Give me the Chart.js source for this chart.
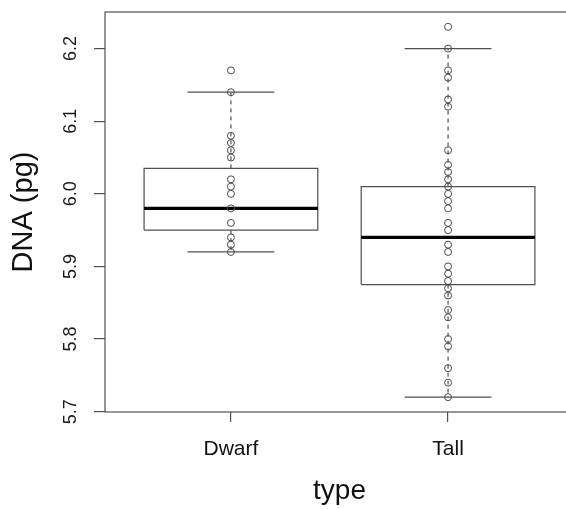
<!DOCTYPE html>
<html>
<head>
<meta charset="UTF-8" />
<title>DNA by type</title>
<script src="https://cdn.jsdelivr.net/npm/chart.js"></script>
<style>
  html, body { margin: 0; padding: 0; background: #fff; overflow: hidden; }
  #wrap { width: 580px; height: 509px; }
</style>
</head>
<body>
<div id="wrap"><canvas id="box" width="580" height="509"></canvas></div>
<script>
// box statistics per group
const categories = ["Dwarf", "Tall"];
const q1 = [5.95, 5.875];
const medians = [5.98, 5.94];
const q3 = [6.035, 6.01];
const whiskerLow = [5.92, 5.72];
const whiskerHigh = [6.14, 6.20];

// observed points (stripchart overlay)
const dwarfValues = [6.17, 6.14, 6.08, 6.07, 6.06, 6.05, 6.02, 6.01, 6.00, 5.98, 5.96, 5.94, 5.93, 5.92];
const tallValues = [6.23, 6.20, 6.17, 6.16, 6.13, 6.12, 6.06, 6.04, 6.03, 6.02, 6.01, 6.00, 5.99, 5.98,
  5.96, 5.95, 5.93, 5.92, 5.90, 5.89, 5.88, 5.87, 5.86, 5.84, 5.83, 5.80, 5.79, 5.76, 5.74, 5.72];
const groupValues = [dwarfValues, tallValues];

const yTicks = [5.7, 5.8, 5.9, 6.0, 6.1, 6.2];

const boxHalf = 0.4;
const capHalf = 0.2;
const lineGray = "#505050";

const datasets = [];
categories.forEach((name, i) => {
  const c = i + 1;
  datasets.push({
    label: name + " points",
    data: groupValues[i].map(v => ({ x: c, y: v })),
    pointRadius: 3.5,
    pointBorderWidth: 1,
    pointBorderColor: "#4a4a4a",
    pointBackgroundColor: "rgba(0,0,0,0)",
    showLine: false
  });
  datasets.push({
    label: name + " median",
    data: [{ x: c - boxHalf, y: medians[i] }, { x: c + boxHalf, y: medians[i] }],
    borderColor: "#000", borderWidth: 3.2, showLine: true, pointRadius: 0
  });
  datasets.push({
    label: name + " box",
    data: [
      { x: c - boxHalf, y: q1[i] }, { x: c + boxHalf, y: q1[i] },
      { x: c + boxHalf, y: q3[i] }, { x: c - boxHalf, y: q3[i] },
      { x: c - boxHalf, y: q1[i] }
    ],
    borderColor: lineGray, borderWidth: 1.2, showLine: true, pointRadius: 0
  });
  datasets.push({
    label: name + " upper whisker",
    data: [{ x: c, y: q3[i] }, { x: c, y: whiskerHigh[i] }],
    borderColor: lineGray, borderWidth: 1.2, borderDash: [4, 4], showLine: true, pointRadius: 0
  });
  datasets.push({
    label: name + " lower whisker",
    data: [{ x: c, y: q1[i] }, { x: c, y: whiskerLow[i] }],
    borderColor: lineGray, borderWidth: 1.2, borderDash: [4, 4], showLine: true, pointRadius: 0
  });
  datasets.push({
    label: name + " upper cap",
    data: [{ x: c - capHalf, y: whiskerHigh[i] }, { x: c + capHalf, y: whiskerHigh[i] }],
    borderColor: lineGray, borderWidth: 1.2, showLine: true, pointRadius: 0
  });
  datasets.push({
    label: name + " lower cap",
    data: [{ x: c - capHalf, y: whiskerLow[i] }, { x: c + capHalf, y: whiskerLow[i] }],
    borderColor: lineGray, borderWidth: 1.2, showLine: true, pointRadius: 0
  });
});

const fontFamily = "'Liberation Sans', Arial, Helvetica, sans-serif";

// frame round the plot region and rotated y tick labels, like base R
const framePlugin = {
  id: "frame",
  afterDraw(chart) {
    const { ctx, chartArea: a, scales } = chart;
    ctx.save();
    ctx.strokeStyle = lineGray;
    ctx.lineWidth = 1.2;
    ctx.strokeRect(a.left, a.top, a.right - a.left, a.bottom - a.top);
    ctx.fillStyle = "#1a1a1a";
    ctx.font = "18px " + fontFamily;
    ctx.textAlign = "center";
    ctx.textBaseline = "middle";
    yTicks.forEach(t => {
      const y = scales.y.getPixelForValue(t);
      ctx.save();
      ctx.translate(71, y);
      ctx.rotate(-Math.PI / 2);
      ctx.fillText(t.toFixed(1), 0, 0);
      ctx.restore();
    });
    ctx.restore();
  }
};

new Chart(document.getElementById("box"), {
  type: "scatter",
  data: { datasets: datasets },
  options: {
    responsive: false,
    animation: false,
    layout: { padding: { top: 12, right: 6, left: 0, bottom: 0 } },
    plugins: { legend: { display: false }, tooltip: { enabled: false } },
    scales: {
      x: {
        type: "linear",
        min: 0.42,
        max: 2.58,
        afterBuildTicks: s => { s.ticks = categories.map((_, i) => ({ value: i + 1 })); },
        afterFit: s => { s.height = 97; },
        border: { display: false },
        grid: { drawOnChartArea: false, drawTicks: true, tickLength: 10, color: lineGray, lineWidth: 1.2 },
        ticks: {
          padding: 15,
          color: "#111",
          font: { family: fontFamily, size: 21 },
          callback: v => categories[v - 1]
        },
        title: {
          display: true,
          text: "type",
          color: "#111",
          font: { family: fontFamily, size: 28 },
          padding: { top: 0, bottom: 1 }
        }
      },
      y: {
        min: 5.6996,
        max: 6.2504,
        afterBuildTicks: s => { s.ticks = yTicks.map(v => ({ value: v })); },
        afterFit: s => { s.width = 105; },
        border: { display: false },
        grid: { drawOnChartArea: false, drawTicks: true, tickLength: 11, color: lineGray, lineWidth: 1.2 },
        ticks: { display: false },
        title: {
          display: true,
          text: "DNA (pg)",
          color: "#111",
          font: { family: fontFamily, size: 29 },
          padding: { top: 7, bottom: 0 }
        }
      }
    }
  },
  plugins: [framePlugin]
});
</script>
</body>
</html>
